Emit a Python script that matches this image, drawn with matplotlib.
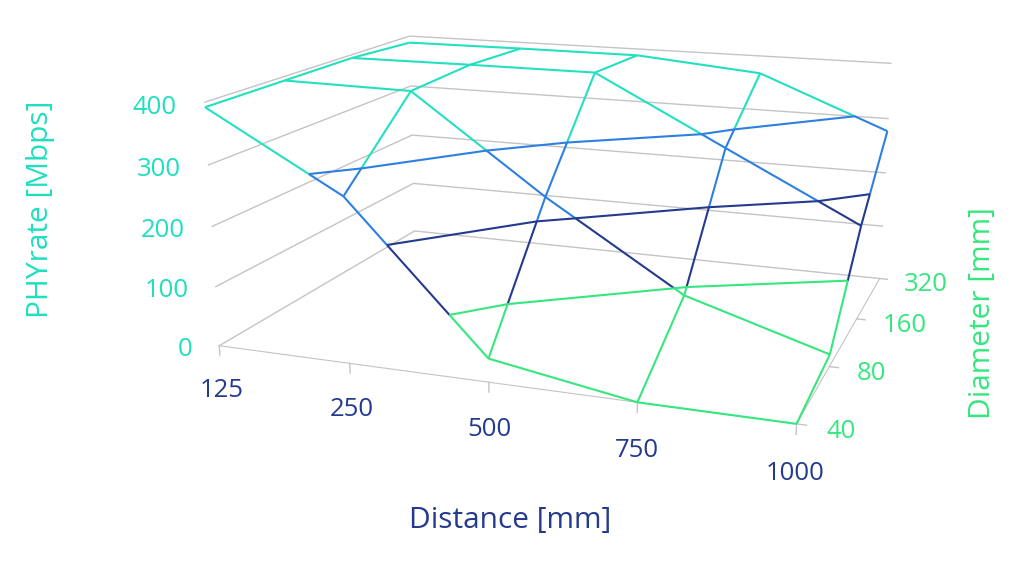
import numpy as np
import matplotlib
matplotlib.use("Agg")
import matplotlib.pyplot as plt
from matplotlib.transforms import ScaledTranslation
from mpl_toolkits.mplot3d.art3d import Line3DCollection

# ---- data -------------------------------------------------------------
distance_labels = ["125", "250", "500", "750", "1000"]
diameter_labels = ["40", "80", "160", "320"]
# PHY rate [Mbps]; rows = diameter, columns = distance
phy_40 = [392, 270, 38, 0, 0]
phy_80 = [393, 390, 231, 90, 20]
phy_160 = [394, 395, 395, 279, 164]
phy_320 = [387, 388, 388, 368, 277]
z_ticks = [0, 100, 200, 300, 400]

# ---- style ------------------------------------------------------------
band_colors = ["#36e67e", "#243a8e", "#2e80e0", "#22e0c0"]
cyan = "#1fdfc0"
navy = "#243a8e"
green = "#36e67e"
grey = "#c4c4c4"
plt.rcParams["font.family"] = ["Open Sans", "DejaVu Sans"]
fs = 18.5
fs_title = 21.5

Z = np.array([phy_40, phy_80, phy_160, phy_320], dtype=float)
nx, ny = len(distance_labels), len(diameter_labels)
X, Y = np.meshgrid(np.arange(nx), np.arange(ny))

fig = plt.figure(figsize=(10.24, 5.76), dpi=100)
ax = fig.add_axes([0.050, 0.143, 1.0, 1.0], projection="3d")
ax.computed_zorder = False
ax.set_proj_type("persp", focal_length=0.5)
ax.view_init(elev=14.5, azim=-70)
ax.set_box_aspect((2.36, 1.82, 1.0), zoom=1.25)

ax.set_xlim(0, nx - 1)
ax.set_ylim(0, ny - 1)
ax.set_zlim(z_ticks[0], z_ticks[-1])
ax.set_xticks([])
ax.set_yticks([])
ax.set_zticks([])
ax.grid(False)
for a in (ax.xaxis, ax.yaxis, ax.zaxis):
    a.set_pane_color((1, 1, 1, 0))
    a.pane.set_edgecolor((1, 1, 1, 0))
ax.xaxis.line.set_color(grey)
ax.yaxis.line.set_color(grey)
ax.zaxis.line.set_color((1, 1, 1, 0))


def split_segment(p0, p1, levels):
    """split a 3D segment at band levels, returning (seg, band) pieces"""
    z0, z1 = p0[2], p1[2]
    ts = [0.0, 1.0]
    for L in levels:
        if (z0 - L) * (z1 - L) < 0:
            ts.append((L - z0) / (z1 - z0))
    ts = sorted(ts)
    out = []
    for a, b in zip(ts[:-1], ts[1:]):
        pa = p0 + a * (p1 - p0)
        pb = p0 + b * (p1 - p0)
        zm = 0.5 * (pa[2] + pb[2])
        band = int(np.clip(np.searchsorted(z_ticks, zm) - 1, 0, len(band_colors) - 1))
        out.append(([pa, pb], band))
    return out


# gridlines on the left and back walls, tick marks on the floor axes
for v in z_ticks:
    ax.plot([0, 0, nx - 1], [0, ny - 1, ny - 1], [v, v, v], color=grey,
            lw=1.0, zorder=1, clip_on=False)
for i in range(nx):
    ax.plot([i, i], [0, 0], [0, -16], color=grey, lw=1.0, zorder=1, clip_on=False)
for j in range(ny):
    ax.plot([nx - 1, nx - 1 + 0.06], [j, j], [0, 0], color=grey, lw=1.0,
            zorder=1, clip_on=False)

segs, cols = [], []
inner = z_ticks[1:-1]
for j in range(ny):
    for i in range(nx):
        p = np.array([X[j, i], Y[j, i], Z[j, i]], dtype=float)
        if i + 1 < nx:
            q = np.array([X[j, i + 1], Y[j, i + 1], Z[j, i + 1]], dtype=float)
            for s, b in split_segment(p, q, inner):
                segs.append(s)
                cols.append(band_colors[b])
        if j + 1 < ny:
            q = np.array([X[j + 1, i], Y[j + 1, i], Z[j + 1, i]], dtype=float)
            for s, b in split_segment(p, q, inner):
                segs.append(s)
                cols.append(band_colors[b])

wire = Line3DCollection(segs, colors=cols, linewidths=1.5, zorder=3)
wire.set_clip_on(False)
ax.add_collection3d(wire)
cs = ax.contour(X, Y, Z, levels=inner, colors=band_colors[:3], linewidths=1.5,
                zorder=3)
cs.set_clip_on(False)

# ---- tick labels: project 3D anchor points with the axes' own projection ----
M = ax.get_proj()


def project(x, y, z):
    v = M @ np.array([x, y, z, 1.0])
    return v[0] / v[3], v[1] / v[3]


def nudge(dx_px, dy_px):
    return ax.transData + ScaledTranslation(dx_px / 100, dy_px / 100, fig.dpi_scale_trans)


for i, lab in enumerate(distance_labels):
    px, py = project(i, 0, -70)
    ax.text2D(px, py, lab, color=navy, fontsize=fs, ha="center", va="center",
              transform=nudge(0, -4), clip_on=False)
for j, lab in enumerate(diameter_labels):
    px, py = project(nx - 1 + 0.15, j, 0)
    ax.text2D(px, py, lab, color=green, fontsize=fs, ha="left", va="center",
              transform=nudge(5, -4), clip_on=False)
for v in z_ticks:
    px, py = project(-0.2, 0, v)
    ax.text2D(px, py, str(v), color=cyan, fontsize=fs, ha="right", va="center",
              transform=nudge(-2, -7), clip_on=False)

fig.text(0.040, 0.637, "PHYrate [Mbps]", rotation=90, color=cyan,
         fontsize=fs_title, ha="center", va="center")
fig.text(0.498, 0.097, "Distance [mm]", color=navy, fontsize=fs_title,
         ha="center", va="center")
fig.text(0.959, 0.457, "Diameter [mm]", rotation=90, color=green,
         fontsize=fs_title, ha="center", va="center")

fig.savefig("out.png", dpi=100)
